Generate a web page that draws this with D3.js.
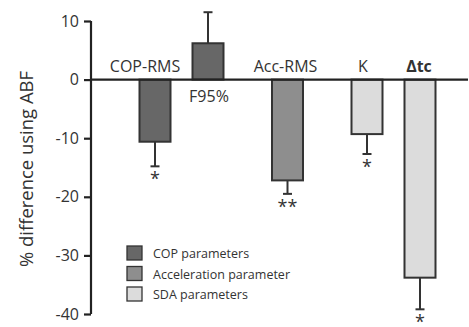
<!DOCTYPE html>
<html>
<head>
<meta charset="utf-8">
<script src="https://cdn.jsdelivr.net/npm/d3@7"></script>
<style>
  body { margin: 0; background: #fff; }
  svg { display: block; font-family: "Open Sans", sans-serif; }
</style>
</head>
<body>
<svg width="469" height="327"></svg>
<script>
// values
const categories = ["COP-RMS", "F95%", "Acc-RMS", "K", "\u0394tc"];
const groups = ["COP", "COP", "Acc", "SDA", "SDA"];
const values = [-10.6, 6.2, -17.2, -9.3, -33.8];
const errors = [4.2, 5.3, 2.3, 3.4, 5.4];
const stars = ["*", "", "**", "*", "*"];
const groupNames = ["COP", "Acc", "SDA"];
const legendLabels = ["COP parameters", "Acceleration parameter", "SDA parameters"];
const yTicks = [10, 0, -10, -20, -30, -40];

const colors = {COP: "#676767", Acc: "#8e8e8e", SDA: "#dcdcdc"};

const svg = d3.select("svg");

// slot index: item index plus half a slot between groups
const slots = categories.map((c, i) => i + groupNames.indexOf(groups[i]) * 0.5);

const x = d3.scaleLinear().domain([0, 5]).range([155, 420]);
const y = d3.scaleLinear().domain([10, -40]).range([21, 314]);
const barW = 31;

// y axis
const yAxis = svg.append("g")
	.attr("transform", "translate(91,0)")
	.call(d3.axisLeft(y).tickValues(yTicks).tickSize(7).tickPadding(5).tickFormat(d => d));
yAxis.select(".domain").attr("stroke", "#222").attr("stroke-width", 2.2).attr("d", "M0," + y(10) + "V" + y(-40));
yAxis.selectAll(".tick line").attr("stroke", "#222").attr("stroke-width", 2.2);
yAxis.selectAll(".tick text").attr("font-size", 16).attr("fill", "#333").attr("font-family", "Open Sans, sans-serif");

svg.append("text")
	.attr("transform", "translate(33,169) rotate(-90)")
	.attr("text-anchor", "middle")
	.attr("font-size", 17.5)
	.attr("textLength", 196)
	.attr("lengthAdjust", "spacingAndGlyphs")
	.attr("fill", "#333")
	.text("% difference using ABF");

// error bars
const eb = svg.append("g").attr("stroke", "#333").attr("stroke-width", 2);
categories.forEach((c, i) => {
	const cx = x(slots[i]);
	const end = values[i] + Math.sign(values[i]) * errors[i];
	eb.append("line").attr("x1", cx).attr("x2", cx).attr("y1", y(values[i])).attr("y2", y(end));
	eb.append("line").attr("x1", cx - 4.5).attr("x2", cx + 4.5).attr("y1", y(end)).attr("y2", y(end));
});

// bars
svg.append("g").selectAll("rect")
	.data(categories)
	.enter().append("rect")
	.attr("x", (d, i) => x(slots[i]) - barW / 2)
	.attr("y", (d, i) => y(Math.max(0, values[i])))
	.attr("width", barW)
	.attr("height", (d, i) => Math.abs(y(values[i]) - y(0)))
	.attr("fill", (d, i) => colors[groups[i]])
	.attr("stroke", "#333")
	.attr("stroke-width", 2);

// zero line
svg.append("line")
	.attr("x1", 91).attr("x2", 468)
	.attr("y1", y(0)).attr("y2", y(0))
	.attr("stroke", "#222").attr("stroke-width", 2.2);

// category labels
const labelDx = [-10, 1, -2, -4, -1];
svg.append("g").selectAll("text")
	.data(categories)
	.enter().append("text")
	.attr("x", (d, i) => x(slots[i]) + labelDx[i])
	.attr("y", (d, i) => values[i] > 0 ? y(0) + 22 : y(0) - 8)
	.attr("text-anchor", "middle")
	.attr("font-size", 16)
	.attr("font-weight", (d, i) => i === 4 ? "bold" : "normal")
	.attr("fill", "#333")
	.text(d => d);

// significance stars
svg.append("g").selectAll("text")
	.data(categories)
	.enter().append("text")
	.attr("x", (d, i) => x(slots[i]))
	.attr("y", (d, i) => y(values[i] - errors[i]) + 19)
	.attr("text-anchor", "middle")
	.attr("font-size", 18)
	.attr("fill", "#333")
	.text((d, i) => stars[i]);

// legend
const lg = svg.append("g").attr("transform", "translate(127,246)");
groupNames.forEach((g, i) => {
	lg.append("rect").attr("x", 0).attr("y", i * 20.5).attr("width", 15).attr("height", 14)
		.attr("fill", colors[g]).attr("stroke", "#333").attr("stroke-width", 1.3);
	lg.append("text").attr("x", 26).attr("y", i * 20.5 + 12)
		.attr("font-size", 12.5).attr("fill", "#333").text(legendLabels[i]);
});
</script>
</body>
</html>
